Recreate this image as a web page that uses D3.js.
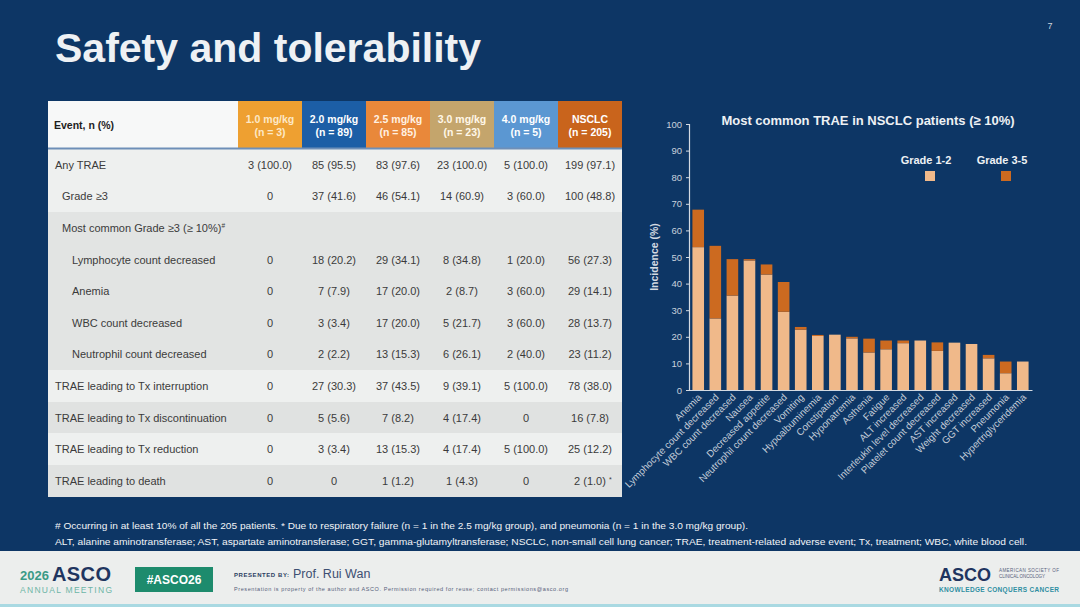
<!DOCTYPE html>
<meta charset="utf-8">
<script src="https://d3js.org/d3.v7.min.js"></script>
<style>
  body { margin: 0; background: #0d3665; }
  svg { display: block; font-family: "Liberation Sans", Arial, sans-serif; }
</style>
<div id="slide"></div>
<script>

// bar chart data (NSCLC, %)
var categories = ["Anemia", "Lymphocyte count decreased", "WBC count decreased", "Nausea",
  "Decreased appetite", "Neutrophil count decreased", "Vomiting", "Hypoalbuminemia",
  "Constipation", "Hyponatremia", "Asthenia", "Fatigue", "ALT increased",
  "Interleukin level decreased", "Platelet count decreased", "AST increased",
  "Weight decreased", "GGT increased", "Pneumonia", "Hypertriglyceridemia"];
var grade12 = [53.7, 26.9, 35.5, 48.7, 43.4, 29.4, 22.7, 20.3, 20.8, 19.4,
  14.1, 15.3, 17.6, 18.6, 14.7, 17.8, 17.3, 11.9, 6.3, 10.7];
var grade35 = [14.1, 27.3, 13.7, 0.5, 3.8, 11.2, 1.0, 0.4, 0, 0.6,
  5.2, 3.3, 1.0, 0, 3.2, 0, 0, 1.3, 4.4, 0];
var seriesNames = ["Grade 1-2", "Grade 3-5"];
var yTicks = [0, 10, 20, 30, 40, 50, 60, 70, 80, 90, 100];

// table data
var doseHeaders = ["1.0 mg/kg", "2.0 mg/kg", "2.5 mg/kg", "3.0 mg/kg", "4.0 mg/kg", "NSCLC"];
var doseN = ["(n = 3)", "(n = 89)", "(n = 85)", "(n = 23)", "(n = 5)", "(n = 205)"];
var rowLabels = ["Any TRAE", "Grade \u22653", "Most common Grade \u22653 (\u2265 10%)",
  "Lymphocyte count decreased", "Anemia", "WBC count decreased", "Neutrophil count decreased",
  "TRAE leading to Tx interruption", "TRAE leading to Tx discontinuation",
  "TRAE leading to Tx reduction", "TRAE leading to death"];
var rowIndent = [0, 1, 1, 2, 2, 2, 2, 0, 0, 0, 0];
var rowValues = [
  ["3 (100.0)", "85 (95.5)", "83 (97.6)", "23 (100.0)", "5 (100.0)", "199 (97.1)"],
  ["0", "37 (41.6)", "46 (54.1)", "14 (60.9)", "3 (60.0)", "100 (48.8)"],
  ["", "", "", "", "", ""],
  ["0", "18 (20.2)", "29 (34.1)", "8 (34.8)", "1 (20.0)", "56 (27.3)"],
  ["0", "7 (7.9)", "17 (20.0)", "2 (8.7)", "3 (60.0)", "29 (14.1)"],
  ["0", "3 (3.4)", "17 (20.0)", "5 (21.7)", "3 (60.0)", "28 (13.7)"],
  ["0", "2 (2.2)", "13 (15.3)", "6 (26.1)", "2 (40.0)", "23 (11.2)"],
  ["0", "27 (30.3)", "37 (43.5)", "9 (39.1)", "5 (100.0)", "78 (38.0)"],
  ["0", "5 (5.6)", "7 (8.2)", "4 (17.4)", "0", "16 (7.8)"],
  ["0", "3 (3.4)", "13 (15.3)", "4 (17.4)", "5 (100.0)", "25 (12.2)"],
  ["0", "0", "1 (1.2)", "1 (4.3)", "0", "2 (1.0)"]
];
var rowBands = ["#eef0ef", "#eef0ef", "#e2e4e3", "#e2e4e3", "#e2e4e3", "#e2e4e3", "#e2e4e3",
  "#eef0ef", "#e0e2e1", "#eef0ef", "#e0e2e1"];

var W = 1080, H = 607;
var svg = d3.select("#slide").append("svg").attr("width", W).attr("height", H);

svg.append("rect").attr("width", W).attr("height", H).attr("fill", "#0d3665");

// slide title
svg.append("text").attr("x", 55).attr("y", 62)
  .attr("font-size", 41).attr("font-weight", "bold").attr("fill", "#eef1f4")
  .text("Safety and tolerability");
svg.append("text").attr("x", 1050).attr("y", 29).attr("font-size", 9)
  .attr("fill", "#cfd6df").attr("text-anchor", "middle").text("7");

// ---------- table ----------
var tableX = 48, tableRight = 622, headTop = 101, headBottom = 149, rowH = 31.6;
var colX = d3.scaleBand().domain(d3.range(6)).range([238, tableRight]);
var headColors = ["#eea031", "#1c5ea6", "#e9883a", "#c4a56c", "#5b97d2", "#c9641c"];
var headText = ["#fde8c6", "#ffffff", "#fff1e2", "#fff7e8", "#ffffff", "#ffffff"];

var tbl = svg.append("g");
tbl.append("rect").attr("x", tableX).attr("y", headTop)
  .attr("width", tableRight - tableX).attr("height", headBottom - headTop).attr("fill", "#f7f8f8");
tbl.selectAll(".hcell").data(doseHeaders).enter().append("rect")
  .attr("x", function(d, i) { return colX(i); })
  .attr("y", headTop)
  .attr("width", colX.bandwidth())
  .attr("height", headBottom - headTop)
  .attr("fill", function(d, i) { return headColors[i]; });
tbl.selectAll(".h1").data(doseHeaders).enter().append("text")
  .attr("x", function(d, i) { return colX(i) + colX.bandwidth() / 2; })
  .attr("y", 123).attr("text-anchor", "middle")
  .attr("font-size", 10.5).attr("font-weight", "bold")
  .attr("fill", function(d, i) { return headText[i]; })
  .text(function(d) { return d; });
tbl.selectAll(".h2").data(doseN).enter().append("text")
  .attr("x", function(d, i) { return colX(i) + colX.bandwidth() / 2; })
  .attr("y", 136).attr("text-anchor", "middle")
  .attr("font-size", 10.5).attr("font-weight", "bold")
  .attr("fill", function(d, i) { return headText[i]; })
  .text(function(d) { return d; });
tbl.append("text").attr("x", 54).attr("y", 129)
  .attr("font-size", 10.5).attr("font-weight", "bold").attr("fill", "#1e1e1e")
  .text("Event, n (%)");

tbl.selectAll(".band").data(rowLabels).enter().append("rect")
  .attr("shape-rendering", "crispEdges")
  .attr("x", tableX)
  .attr("y", function(d, i) { return Math.round(headBottom + i * rowH); })
  .attr("width", tableRight - tableX)
  .attr("height", function(d, i) {
    return Math.round(headBottom + (i + 1) * rowH) - Math.round(headBottom + i * rowH);
  })
  .attr("fill", function(d, i) { return rowBands[i]; });
tbl.append("rect").attr("x", tableX).attr("y", headBottom - 1.5)
  .attr("width", tableRight - tableX).attr("height", 2).attr("fill", "#6e8fb8");

var labels = tbl.selectAll(".rl").data(rowLabels).enter().append("text")
  .attr("x", function(d, i) { return 55 + rowIndent[i] * 7 + (rowIndent[i] == 2 ? 3 : 0); })
  .attr("y", function(d, i) { return headBottom + i * rowH + rowH / 2 + 4; })
  .attr("font-size", 11).attr("fill", "#3b3b3b")
  .text(function(d) { return d; });
labels.filter(function(d, i) { return i == 2; }).append("tspan")
  .attr("font-size", 6.5).attr("dy", -4).text("#");

rowValues.forEach(function(vals, r) {
  tbl.selectAll(".v" + r).data(vals).enter().append("text")
    .attr("x", function(d, i) { return colX(i) + colX.bandwidth() / 2; })
    .attr("y", headBottom + r * rowH + rowH / 2 + 4)
    .attr("text-anchor", "middle").attr("font-size", 11).attr("fill", "#3b3b3b")
    .text(function(d) { return d; });
  if (r == rowValues.length - 1) {
    tbl.append("text").attr("x", colX(5) + colX.bandwidth() / 2 + 19)
      .attr("y", headBottom + r * rowH + rowH / 2 + 1)
      .attr("font-size", 7).attr("fill", "#3b3b3b").text("*");
  }
});

// ---------- bar chart ----------
var x = d3.scaleBand().domain(categories).range([689, 1032])
  .paddingInner(0.32).paddingOuter(0.2);
var y = d3.scaleLinear().domain([0, 100]).range([390, 124]);
var colors = ["#f0b98a", "#cc6a20"];
var axisColor = "#d4dae2";

var chart = svg.append("g");
chart.selectAll(".g12").data(categories).enter().append("rect")
  .attr("x", function(d) { return x(d); })
  .attr("y", function(d, i) { return y(grade12[i]); })
  .attr("width", x.bandwidth())
  .attr("height", function(d, i) { return y(0) - y(grade12[i]); })
  .attr("fill", colors[0]);
chart.selectAll(".g35").data(categories).enter().append("rect")
  .attr("x", function(d) { return x(d); })
  .attr("y", function(d, i) { return y(grade12[i] + grade35[i]); })
  .attr("width", x.bandwidth())
  .attr("height", function(d, i) { return y(grade12[i]) - y(grade12[i] + grade35[i]); })
  .attr("fill", colors[1]);

var ya = chart.append("g").attr("transform", "translate(689,0)")
  .call(d3.axisLeft(y).tickValues(yTicks).tickSize(3).tickPadding(4));
ya.select(".domain").attr("stroke", axisColor).attr("stroke-width", 1.2);
ya.selectAll(".tick line").attr("stroke", axisColor);
ya.selectAll(".tick text").attr("fill", "#c9d1dc").attr("font-size", 9.5)
  .attr("font-family", "Liberation Sans, Arial, sans-serif");

var xa = chart.append("g").attr("transform", "translate(0,390)")
  .call(d3.axisBottom(x).tickSize(0).tickPadding(0));
xa.select(".domain").attr("stroke", axisColor).attr("stroke-width", 1.2);
xa.selectAll(".tick text")
  .attr("fill", "#c3ccd8").attr("font-size", 9.8)
  .attr("font-family", "Liberation Sans, Arial, sans-serif")
  .attr("text-anchor", "end")
  .attr("dy", 0)
  .attr("transform", "translate(4,8) rotate(-45)");

chart.append("text").attr("transform", "translate(658,257) rotate(-90)")
  .attr("text-anchor", "middle").attr("font-size", 10.5).attr("font-weight", "bold")
  .attr("fill", "#d4dae2").text("Incidence (%)");

chart.append("text").attr("x", 868).attr("y", 125).attr("text-anchor", "middle")
  .attr("font-size", 13).attr("font-weight", "bold").attr("fill", "#eef1f4")
  .text("Most common TRAE in NSCLC patients (\u2265 10%)");

var legX = [926, 1002];
seriesNames.forEach(function(name, i) {
  chart.append("text").attr("x", legX[i]).attr("y", 164).attr("text-anchor", "middle")
    .attr("font-size", 11).attr("font-weight", "bold").attr("fill", "#eef1f4").text(name);
  chart.append("rect").attr("x", legX[i] - 1).attr("y", 171).attr("width", 10).attr("height", 10)
    .attr("fill", colors[i]);
});

// ---------- notes ----------
svg.append("text").attr("x", 55).attr("y", 529).attr("font-size", 9.2).attr("fill", "#f2f4f7")
  .attr("textLength", 693).attr("lengthAdjust", "spacingAndGlyphs")
  .text("# Occurring in at least 10% of all the 205 patients. * Due to respiratory failure (n = 1 in the 2.5 mg/kg group), and pneumonia (n = 1 in the 3.0 mg/kg group).");
svg.append("text").attr("x", 55).attr("y", 545).attr("font-size", 9.2).attr("fill", "#f2f4f7")
  .attr("textLength", 972).attr("lengthAdjust", "spacingAndGlyphs")
  .text("ALT, alanine aminotransferase; AST, aspartate aminotransferase; GGT, gamma-glutamyltransferase; NSCLC, non-small cell lung cancer; TRAE, treatment-related adverse event; Tx, treatment; WBC, white blood cell.");

// ---------- footer ----------
var foot = svg.append("g");
foot.append("rect").attr("x", 0).attr("y", 551).attr("width", W).attr("height", 56).attr("fill", "#eceeed");
foot.append("rect").attr("x", 0).attr("y", 604).attr("width", W).attr("height", 3).attr("fill", "#a9d9e2");
foot.append("text").attr("x", 20).attr("y", 580).attr("font-size", 13).attr("font-weight", "bold")
  .attr("fill", "#3a9a86").text("2026");
foot.append("text").attr("x", 52).attr("y", 581).attr("font-size", 20).attr("font-weight", "bold")
  .attr("fill", "#1f3560").attr("textLength", 59).text("ASCO");
foot.append("text").attr("x", 20).attr("y", 593).attr("font-size", 8.5)
  .attr("fill", "#6db5a6").attr("textLength", 92).text("ANNUAL MEETING");
foot.append("rect").attr("x", 135).attr("y", 567).attr("width", 78).attr("height", 25).attr("fill", "#1d8b6d");
foot.append("text").attr("x", 174).attr("y", 584).attr("text-anchor", "middle").attr("font-size", 12)
  .attr("font-weight", "bold").attr("fill", "#ffffff").text("#ASCO26");
foot.append("text").attr("x", 234).attr("y", 577).attr("font-size", 6).attr("font-weight", "bold")
  .attr("fill", "#2b3d62").attr("textLength", 55).text("PRESENTED BY:");
foot.append("text").attr("x", 293).attr("y", 578).attr("font-size", 12.5)
  .attr("fill", "#3d4f72").text("Prof. Rui Wan");
foot.append("text").attr("x", 234).attr("y", 591).attr("font-size", 5.5)
  .attr("fill", "#55607a").attr("textLength", 334)
  .text("Presentation is property of the author and ASCO. Permission required for reuse; contact permissions@asco.org");
foot.append("text").attr("x", 939).attr("y", 581).attr("font-size", 18).attr("font-weight", "bold")
  .attr("fill", "#1f3560").attr("textLength", 52).text("ASCO");
foot.append("text").attr("x", 999).attr("y", 572).attr("font-size", 4.5)
  .attr("fill", "#55607a").attr("textLength", 60).text("AMERICAN SOCIETY OF");
foot.append("text").attr("x", 999).attr("y", 578).attr("font-size", 4.5)
  .attr("fill", "#55607a").attr("textLength", 46).text("CLINICAL ONCOLOGY");
foot.append("text").attr("x", 939).attr("y", 592).attr("font-size", 6.5).attr("font-weight", "bold")
  .attr("fill", "#2f8ea2").attr("textLength", 120).text("KNOWLEDGE CONQUERS CANCER");

</script>
